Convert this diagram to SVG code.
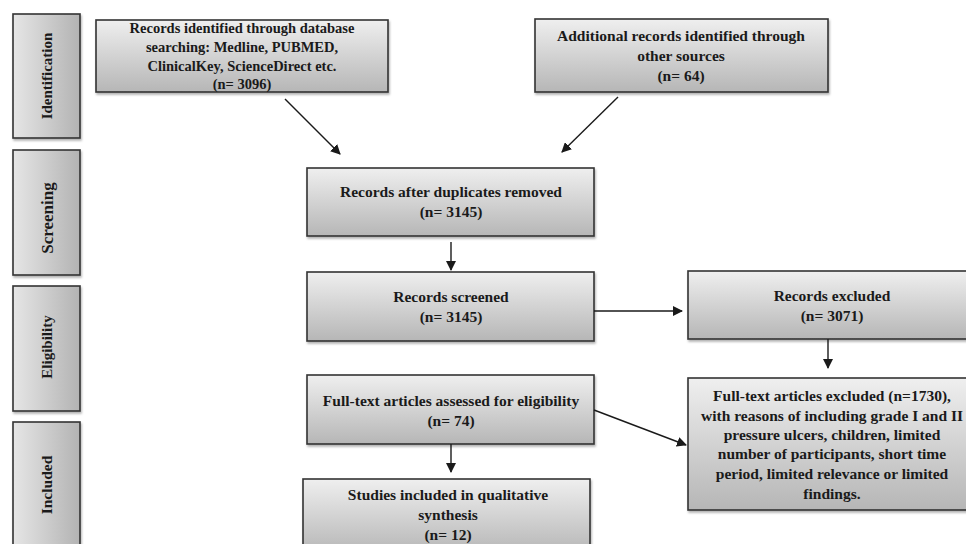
<svg xmlns="http://www.w3.org/2000/svg" width="966" height="544" viewBox="0 0 966 544">
<style>
.box{fill:url(#gv);stroke:#333;stroke-width:1.6;filter:url(#sh)}
.side{fill:url(#gh);stroke:#333;stroke-width:1.6;filter:url(#sh)}
text{font-family:"Liberation Serif","Times New Roman",serif;font-weight:bold;font-size:15.5px;fill:#1a1a1a;text-anchor:middle}
.t1{font-size:14.5px}
.con line{stroke:#1a1a1a;stroke-width:1.4;marker-end:url(#ah)}
</style>
<defs>
<linearGradient id="gv" x1="0" y1="0" x2="0" y2="1">
<stop offset="0" stop-color="#efefef"/>
<stop offset="1" stop-color="#b6b6b6"/>
</linearGradient>
<linearGradient id="gh" x1="0" y1="0" x2="1" y2="0">
<stop offset="0" stop-color="#e6e6e6"/>
<stop offset="1" stop-color="#b3b3b3"/>
</linearGradient>
<filter id="sh" x="-5%" y="-5%" width="110%" height="115%">
<feDropShadow dx="1" dy="2" stdDeviation="1.2" flood-color="#000" flood-opacity="0.3"/>
</filter>
<marker id="ah" viewBox="0 0 10 10" refX="9" refY="5" markerWidth="10" markerHeight="10" markerUnits="userSpaceOnUse" orient="auto">
<path d="M0,0 L10,5 L0,10 z" fill="#1a1a1a"/>
</marker>
</defs>
<g id="phase-identification">
<rect class="side" x="13" y="14" width="67" height="124"/>
<text style="font-size:15px" transform="translate(52,76) rotate(-90)">Identification</text>
</g>
<g id="phase-screening">
<rect class="side" x="13" y="150" width="67" height="125"/>
<text style="font-size:17px" transform="translate(52.5,218) rotate(-90)">Screening</text>
</g>
<g id="phase-eligibility">
<rect class="side" x="13" y="286" width="67" height="125"/>
<text style="font-size:15px" transform="translate(52,347) rotate(-90)">Eligibility</text>
</g>
<g id="phase-included">
<rect class="side" x="13" y="422" width="67" height="130"/>
<text style="font-size:15.5px" transform="translate(52,485) rotate(-90)">Included</text>
</g>
<g id="db-records">
<rect class="box" x="96" y="20" width="292" height="72"/>
<text class="t1" x="242" y="33">Records identified through database</text>
<text class="t1" x="242" y="52">searching: Medline, PUBMED,</text>
<text class="t1" x="242" y="71">ClinicalKey, ScienceDirect etc.</text>
<text class="t1" x="242" y="89">(n= 3096)</text>
</g>
<g id="other-records">
<rect class="box" x="535" y="19" width="293" height="73"/>
<text x="681" y="41">Additional records identified through</text>
<text x="681" y="61">other sources</text>
<text x="681" y="81">(n= 64)</text>
</g>
<g id="duplicates-removed">
<rect class="box" x="307" y="168" width="287" height="68"/>
<text x="451" y="197">Records after duplicates removed</text>
<text x="451" y="217">(n= 3145)</text>
</g>
<g id="screened">
<rect class="box" x="307" y="272" width="287" height="69"/>
<text x="451" y="302">Records screened</text>
<text x="451" y="322">(n= 3145)</text>
</g>
<g id="excluded">
<rect class="box" x="688" y="271" width="290" height="68"/>
<text x="832" y="301">Records excluded</text>
<text x="832" y="321">(n= 3071)</text>
</g>
<g id="fulltext-assessed">
<rect class="box" x="307" y="375" width="287" height="69"/>
<text x="451" y="406">Full-text articles assessed for eligibility</text>
<text x="451" y="426">(n= 74)</text>
</g>
<g id="fulltext-excluded">
<rect class="box" x="688" y="378" width="290" height="132"/>
<text x="832" y="401">Full-text articles excluded (n=1730),</text>
<text x="832" y="421">with reasons of including grade I and II</text>
<text x="832" y="440">pressure ulcers, children, limited</text>
<text x="832" y="459">number of participants, short time</text>
<text x="832" y="479">period, limited relevance or limited</text>
<text x="832" y="499">findings.</text>
</g>
<g id="included-studies">
<rect class="box" x="303" y="479" width="287" height="75"/>
<text x="448" y="500">Studies included in qualitative</text>
<text x="448" y="520">synthesis</text>
<text x="448" y="540">(n= 12)</text>
</g>
<g id="connectors" class="con">
<line x1="285" y1="99" x2="340" y2="154"/>
<line x1="618" y1="97" x2="562" y2="152"/>
<line x1="451" y1="242" x2="451" y2="270"/>
<line x1="594" y1="311" x2="682" y2="311"/>
<line x1="828" y1="339" x2="828" y2="368"/>
<line x1="451" y1="444" x2="451" y2="472"/>
<line x1="594" y1="410" x2="686" y2="445"/>
</g>
</svg>
